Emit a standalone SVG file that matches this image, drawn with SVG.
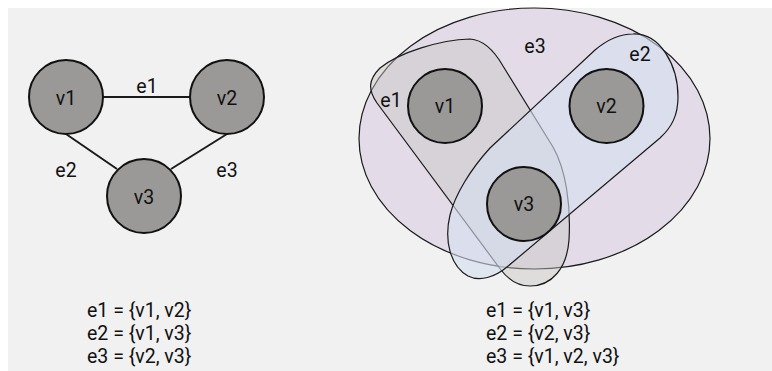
<svg xmlns="http://www.w3.org/2000/svg" width="772" height="371" viewBox="0 0 772 371">
<style>
.bg{fill:#f1f1f1}
.node{fill:#9a9997;stroke:#111;stroke-width:2}
.edge{stroke:#1a1a1a;stroke-width:2;fill:none}
.he{stroke:#1a1a1a;stroke-width:1.2}
text{font-family:Roboto,"Open Sans","DejaVu Sans",sans-serif;font-size:19.5px;fill:#111}
.c{text-anchor:middle}
</style>
<rect class="bg" x="8" y="8" width="764" height="363"/>
<g id="connectors">
<line class="edge" x1="103" y1="97" x2="190" y2="97"/>
<line class="edge" x1="66" y1="134" x2="117" y2="169"/>
<line class="edge" x1="227" y1="134" x2="171" y2="169"/>
</g>
<g id="edge-labels-left">
<text class="c" x="147" y="93">e1</text>
<text class="c" x="66" y="177">e2</text>
<text class="c" x="227" y="177">e3</text>
</g>
<g id="g-v1"><circle class="node" cx="66" cy="97" r="37"/><text class="c" x="66" y="105">v1</text></g>
<g id="g-v2"><circle class="node" cx="227" cy="97" r="37"/><text class="c" x="227" y="105">v2</text></g>
<g id="g-v3"><circle class="node" cx="144" cy="196" r="37"/><text class="c" x="144" y="204">v3</text></g>
<g id="h-e3"><ellipse class="he" cx="534.5" cy="138.5" rx="175.5" ry="130.5" fill="#e3dce8"/><text class="c" x="535" y="53">e3</text></g>
<g id="h-e1"><path class="he" fill="#c8c6c4" fill-opacity="0.45" d="M 470,39 C 485,40 495,52 503,66 L 553,147 C 566,170 571,205 569,240 C 567,268 552,286 530,286 C 518,286 508,279 501,270 L 377,103 C 368,90 368,80 380,68 C 400,52 440,40 470,39 Z"/><text class="c" x="391" y="107">e1</text></g>
<g id="h-e2"><path class="he" fill="#d6e0f0" fill-opacity="0.6" d="M 633,34 C 660,33 678,65 678,97 C 678,115 672,127 660,138 L 507,267 C 495,277 480,282 468,276 C 450,266 444,240 450,215 C 455,195 470,170 490,148 L 595,50 C 608,39 620,34 633,34 Z"/><text class="c" x="640" y="61">e2</text></g>
<g id="h-v1"><circle class="node" cx="445" cy="106" r="37"/><text class="c" x="445" y="113">v1</text></g>
<g id="h-v2"><circle class="node" cx="606.5" cy="106" r="37"/><text class="c" x="606.5" y="113">v2</text></g>
<g id="h-v3"><circle class="node" cx="524" cy="204" r="37"/><text class="c" x="524" y="211">v3</text></g>
<g id="sets-left">
<text x="87" y="317"><tspan x="87" y="317">e1 = {v1, v2}</tspan><tspan x="87" y="340">e2 = {v1, v3}</tspan><tspan x="87" y="363">e3 = {v2, v3}</tspan></text>
</g>
<g id="sets-right">
<text x="486" y="317"><tspan x="486" y="317">e1 = {v1, v3}</tspan><tspan x="486" y="340">e2 = {v2, v3}</tspan><tspan x="486" y="363">e3 = {v1, v2, v3}</tspan></text>
</g>
</svg>
